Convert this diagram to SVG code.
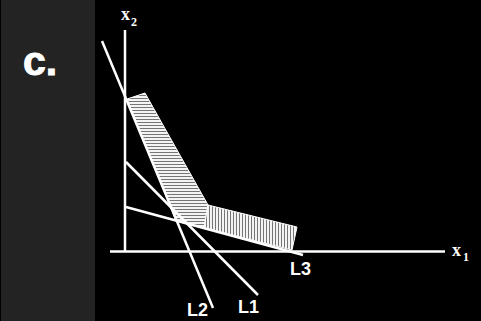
<svg xmlns="http://www.w3.org/2000/svg" width="481" height="321" viewBox="0 0 481 321">
<defs>
<pattern id="hh" width="3" height="3" patternUnits="userSpaceOnUse">
<rect width="3" height="3" fill="#f4f4f4"/><rect y="2" width="3" height="0.8" fill="#555"/>
</pattern>
<pattern id="vh" width="3" height="3" patternUnits="userSpaceOnUse">
<rect width="3" height="3" fill="#f4f4f4"/><rect x="2" width="0.8" height="3" fill="#555"/>
</pattern>
<style>
.ln{stroke:#fff;stroke-width:2.5;fill:none;stroke-linecap:butt}
.lab{font-family:"Liberation Sans",Arial,sans-serif;font-weight:bold;font-size:18px;fill:#fff}
.ax{font-family:"Liberation Serif","Times New Roman",serif;font-weight:bold;fill:#fff}
</style>
</defs>
<rect width="481" height="321" fill="#000"/>
<rect x="1" y="0" width="94" height="321" fill="#232323"/>
<text x="23" y="75" font-family="Liberation Sans,Arial,sans-serif" font-weight="bold" font-size="41" fill="#fff" stroke="#fff" stroke-width="1">c.</text>
<g id="band">
<polygon points="127,99 145,93 208,205 204,228 176,221" fill="url(#hh)" stroke="#fff" stroke-width="1"/>
<polygon points="208,205 297,227 292,250 204,228" fill="url(#vh)" stroke="#fff" stroke-width="1"/>
</g>
<g id="axes">
<line class="ln" x1="125" y1="30" x2="125" y2="252"/>
<line class="ln" x1="110" y1="251.5" x2="445" y2="251.5"/>
<text class="ax" x="121" y="20" font-size="18">x</text>
<text class="ax" x="131" y="26" font-size="12">2</text>
<text class="ax" x="452" y="256" font-size="18">x</text>
<text class="ax" x="463" y="261" font-size="12">1</text>
</g>
<g id="connectors">
<line id="L2" class="ln" x1="102" y1="41" x2="213" y2="308"/>
<line id="L1" class="ln" x1="126" y1="162" x2="258" y2="295"/>
<line id="L3" class="ln" x1="126" y1="207" x2="303" y2="255"/>
</g>
<g id="labels">
<text class="lab" x="290" y="275">L3</text>
<text class="lab" x="238" y="313">L1</text>
<text class="lab" x="187" y="316">L2</text>
</g>
</svg>
